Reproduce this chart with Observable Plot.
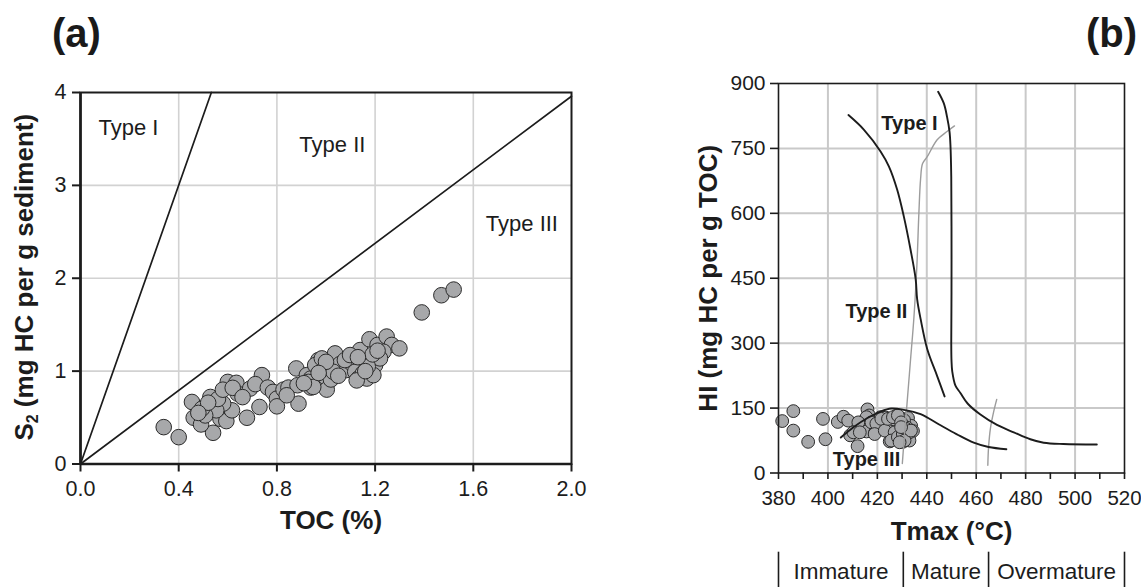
<!DOCTYPE html>
<html>
<head>
<meta charset="utf-8">
<script src="https://cdn.jsdelivr.net/npm/d3@7"></script>
<script src="https://cdn.jsdelivr.net/npm/@observablehq/plot@0.6"></script>
<style>
  body { margin: 0; background: #fff; font-family: "Liberation Sans", Arial, sans-serif; }
  #wrap { position: relative; width: 1141px; height: 587px; overflow: hidden; background: #fff; }
  #wrap svg { position: absolute; top: 0; overflow: visible; }
  .tag { position: absolute; font-weight: bold; font-size: 40px; line-height: 1; color: #1a1a1a; }
</style>
</head>
<body>
<div id="wrap">
  <div class="tag" style="left:52px; top:13px">(a)</div>
  <div class="tag" style="right:4px; top:13px">(b)</div>
</div>
<script>
// ---------------- Panel (a): S2 vs TOC ----------------
const tocTicks = [0, 0.4, 0.8, 1.2, 1.6, 2.0];
const s2Ticks = [0, 1, 2, 3, 4];
const tocValues = [0.339,0.40,0.54,0.454,0.461,0.491,0.529,0.522,0.57,0.594,0.60,0.635,0.64,0.617,0.581,0.553,0.508,0.495,0.678,0.729,0.739,0.691,0.712,0.763,0.784,0.80,0.80,0.827,0.847,0.879,0.888,0.884,0.922,0.938,0.938,0.969,0.987,0.997,1.003,1.02,1.037,1.057,1.082,1.105,1.119,1.132,1.139,1.15,1.166,1.177,1.18,1.21,1.21,1.20,1.247,1.268,1.299,1.234,1.22,1.39,0.956,0.983,1.03,1.077,1.098,1.193,1.125,0.928,0.948,0.84,1.47,1.52,0.56,0.58,0.52,0.62,0.48,0.66,1.17,1.19,1.16,1.21,1.00,0.97,1.13,0.91,1.05];
const s2Values = [0.397,0.289,0.336,0.668,0.498,0.426,0.722,0.614,0.487,0.462,0.884,0.874,0.758,0.578,0.65,0.578,0.523,0.596,0.498,0.614,0.957,0.812,0.86,0.823,0.776,0.704,0.621,0.801,0.823,1.029,0.65,0.848,0.957,0.823,0.92,1.119,1.029,0.939,0.801,0.91,1.191,1.076,1.011,1.083,0.993,0.92,1.227,0.975,0.92,1.343,1.119,1.282,1.173,1.065,1.372,1.282,1.245,1.209,1.137,1.632,1.065,1.137,0.993,1.119,1.173,0.957,0.90,0.884,0.83,0.74,1.817,1.878,0.70,0.80,0.66,0.82,0.55,0.72,1.05,1.18,1.00,1.22,1.10,0.98,1.15,0.87,0.95];
const boundaryI_toc = [0, 0.533];
const boundaryI_s2 = [0, 4];
const boundaryII_toc = [0, 2.0];
const boundaryII_s2 = [0, 3.96];
const typeLabelsA = ["Type I", "Type II", "Type III"];
const typeLabelsA_toc = [0.195, 1.026, 1.798];
const typeLabelsA_s2 = [3.62, 3.44, 2.58];
const xTitleA = "TOC (%)";
const yTitleA = "S2 (mg HC per g sediment)";

// ---------------- Panel (b): HI vs Tmax ----------------
const tmaxLabelTicks = [380, 400, 420, 440, 460, 480, 500, 520];
const tmaxMinorTicks = [380, 390, 400, 410, 420, 430, 440, 450, 460, 470, 480, 490, 500, 510, 520];
const hiTicks = [0, 150, 300, 450, 600, 750, 900];
const tmaxValues = [381.5,386,386,392,398,399,404,406.3,408.2,409,412,414,416,416.7,415.6,419,420.2,421.3,422,423.5,425,425.5,426.3,427.6,428.3,429.7,430.3,431,432.4,433,433.7,431.7,429,427,434.4,430.8,428,424,426.5,432,430,433,
  415.6,412.3,410.3,412.9,417.6,419.6,421.6,418.9,423,424.3,426.3,428.3,429.6,427,425.6,428.3,430.3,431.6,433,431,429,433.6,429.6];
const hiValues = [120,143,98,72,125,78,118,130,121,87,62,118,147,133,96,93,112,129,101,128,73,97,109,132,93,117,72,101,127,89,109,85,86,90,97,122,111,112,124,105,95,75,
  129,117,94,94,117,114,125,90,98,125,129,133,117,94,75,83,90,102,94,75,71,98,106];
const typeI_T = [444.6,446.9,448.2,449.2,449.6,449.9,450.0,450.0,449.9,450.0,450.3,451.6,453.6,456.6,461.7,468.4,475.2,481.9,487.3,495.3,508.8];
const typeI_HI = [881,854,823,789,754,685,570,417,300,260,235,202,185,160,135,111,94,78,70,67,66];
const typeII_T = [408.3,414.6,421.3,424.7,428.0,430.7,433.4,435.5,436.1,437.5,440.2,444.2,447.2];
const typeII_HI = [827,793,743,708,655,593,517,448,402,356,286,224,177];
const typeIII_T = [405.2,410.6,416.0,421.3,425.6,430.7,437.5,445.0,452.0,459.0,465.0,472.2];
const typeIII_HI = [82,107,127,142,149,146,136,112,90,70,60,55];
const matLine1_T = [430.1,431.0,432.0,433.4,434.8,436.0,436.8,437.5,438.3,440.2,444.2,448.2,451.2];
const matLine1_HI = [22,90,160,260,360,480,600,680,715,731,770,789,802];
const matLine2_T = [464.7,465.0,465.8,467.0,468.3];
const matLine2_HI = [18,60,105,140,170];
const typeLabelsB = ["Type I", "Type II", "Type III"];
const typeLabelsB_T = [433.0, 419.6, 415.6];
const typeLabelsB_HI = [807, 372, 31];
const maturityBounds = [380, 430.5, 465, 520];
const maturityLabels = ["Immature", "Mature", "Overmature"];
const xTitleB = "Tmax (°C)";
const yTitleB = "HI (mg HC per g TOC)";

// layout constants (not data)
const FONT = "Liberation Sans, Arial, Helvetica, sans-serif";
const DOT_FILL = "#a7a8aa";
const DOT_STROKE = "#2b2b2b";
const INK = "#1c1c1c";
const TICK_FS = 21;
const TITLE_FS = 26;

const rows = (xs, ys) => xs.map((x, i) => ({x, y: ys[i]}));

const plotA = Plot.plot({
  width: 600, height: 587,
  marginLeft: 80, marginRight: 29, marginTop: 92, marginBottom: 123.5,
  x: {domain: [0, 2]},
  y: {domain: [0, 4]},
  style: {fontFamily: FONT, fontSize: "20px", color: INK, background: "transparent"},
  marks: [
    Plot.gridX(tocTicks.slice(1, -1), {stroke: "#d2d2d2", strokeOpacity: 1, strokeWidth: 1.6}),
    Plot.gridY(s2Ticks.slice(1, -1), {stroke: "#d2d2d2", strokeOpacity: 1, strokeWidth: 1.6}),
    Plot.line(rows(boundaryI_toc, boundaryI_s2), {x: "x", y: "y", stroke: INK, strokeWidth: 1.7}),
    Plot.line(rows(boundaryII_toc, boundaryII_s2), {x: "x", y: "y", stroke: INK, strokeWidth: 1.7}),
    Plot.dot(rows(tocValues, s2Values), {x: "x", y: "y", r: 7.8, fill: DOT_FILL, fillOpacity: 1, stroke: DOT_STROKE, strokeWidth: 1}),
    Plot.frame({stroke: INK, strokeWidth: 2}),
    Plot.ruleX([0], {stroke: INK, strokeWidth: 2.6}),
    Plot.ruleY([0], {stroke: INK, strokeWidth: 2.6}),
    Plot.axisX(tocTicks, {tickSize: 8, tickPadding: 9, tickFormat: d3.format(".1f"), label: null, stroke: INK, strokeWidth: 2, fontSize: 21.5}),
    Plot.axisY(s2Ticks, {tickSize: 8, tickPadding: 6, tickFormat: d3.format("d"), label: null, stroke: INK, strokeWidth: 2, fontSize: 21.5}),
    Plot.text(typeLabelsA, {x: typeLabelsA_toc, y: typeLabelsA_s2, fontSize: 22, fill: INK}),
    Plot.text([xTitleA], {frameAnchor: "bottom", textAnchor: "middle", lineAnchor: "middle", dy: 56.5, dx: 5, fontSize: TITLE_FS, fontWeight: "bold", fill: INK}),
    Plot.text([yTitleA], {frameAnchor: "left", textAnchor: "middle", lineAnchor: "middle", dx: -56, dy: -1, rotate: -90, fontSize: TITLE_FS, fontWeight: "bold", fill: INK})
  ]
});

const plotB = Plot.plot({
  width: 541, height: 587,
  marginLeft: 178, marginRight: 17, marginTop: 83, marginBottom: 114.5,
  x: {domain: [380, 520]},
  y: {domain: [0, 900]},
  style: {fontFamily: FONT, fontSize: "20px", color: INK, background: "transparent"},
  marks: [
    Plot.gridX(tmaxLabelTicks.slice(1, -1), {stroke: "#c9c9c9", strokeOpacity: 1, strokeWidth: 2}),
    Plot.gridY(hiTicks.slice(1, -1), {stroke: "#c9c9c9", strokeOpacity: 1, strokeWidth: 2}),
    Plot.dot(rows(tmaxValues, hiValues), {x: "x", y: "y", r: 6.4, fill: DOT_FILL, fillOpacity: 1, stroke: DOT_STROKE, strokeWidth: 1}),
    Plot.line(rows(matLine1_T, matLine1_HI), {x: "x", y: "y", stroke: "#9c9c9c", strokeWidth: 1.4, curve: "catmull-rom"}),
    Plot.line(rows(matLine2_T, matLine2_HI), {x: "x", y: "y", stroke: "#9c9c9c", strokeWidth: 1.4, curve: "catmull-rom"}),
    Plot.line(rows(typeI_T, typeI_HI), {x: "x", y: "y", stroke: INK, strokeWidth: 1.9, curve: "catmull-rom"}),
    Plot.line(rows(typeII_T, typeII_HI), {x: "x", y: "y", stroke: INK, strokeWidth: 1.9, curve: "catmull-rom"}),
    Plot.line(rows(typeIII_T, typeIII_HI), {x: "x", y: "y", stroke: INK, strokeWidth: 1.9, curve: "catmull-rom"}),
    Plot.frame({stroke: INK, strokeWidth: 1.6}),
    Plot.axisX(tmaxMinorTicks, {tickSize: 6.5, tickPadding: 11, tickFormat: d => d % 20 === 0 ? String(d) : "", label: null, stroke: INK, strokeWidth: 1.6, fontSize: 20.5}),
    Plot.axisY(hiTicks, {tickSize: 8, tickPadding: 5, tickFormat: d3.format("d"), label: null, stroke: INK, strokeWidth: 1.6, fontSize: TICK_FS}),
    Plot.text(typeLabelsB, {x: typeLabelsB_T, y: typeLabelsB_HI, fontSize: 20, fontWeight: "bold", fill: INK}),
    Plot.text([xTitleB], {frameAnchor: "bottom", textAnchor: "middle", lineAnchor: "middle", dy: 58.5, fontSize: TITLE_FS, fontWeight: "bold", fill: INK}),
    Plot.text([yTitleB], {frameAnchor: "left", textAnchor: "middle", lineAnchor: "middle", dx: -70, rotate: -90, fontSize: TITLE_FS, fontWeight: "bold", fill: INK}),
    Plot.ruleX(maturityBounds, {y1: () => -183, y2: () => -268, stroke: INK, strokeWidth: 1.6}),
    Plot.text(maturityLabels, {x: maturityLabels.map((_, i) => (maturityBounds[i] + maturityBounds[i + 1]) / 2), frameAnchor: "bottom", textAnchor: "middle", lineAnchor: "middle", dy: 98.5, fontSize: 22.5, fill: INK})
  ]
});

const wrap = document.getElementById("wrap");
plotA.style.left = "0px";
plotB.style.left = "600px";
wrap.insertBefore(plotA, wrap.firstChild);
wrap.insertBefore(plotB, wrap.firstChild);

// subscript the "2" in S2 (keeps the label centred)
d3.select(plotA).selectAll("text").filter(function () { return this.textContent === yTitleA; }).each(function () {
  const t = d3.select(this);
  t.text("");
  t.attr("text-anchor", "middle");
  t.append("tspan").text("S");
  t.append("tspan").attr("font-size", "16px").attr("baseline-shift", "-5px").text("2");
  t.append("tspan").text(" (mg HC per g sediment)");
});
</script>
</body>
</html>
